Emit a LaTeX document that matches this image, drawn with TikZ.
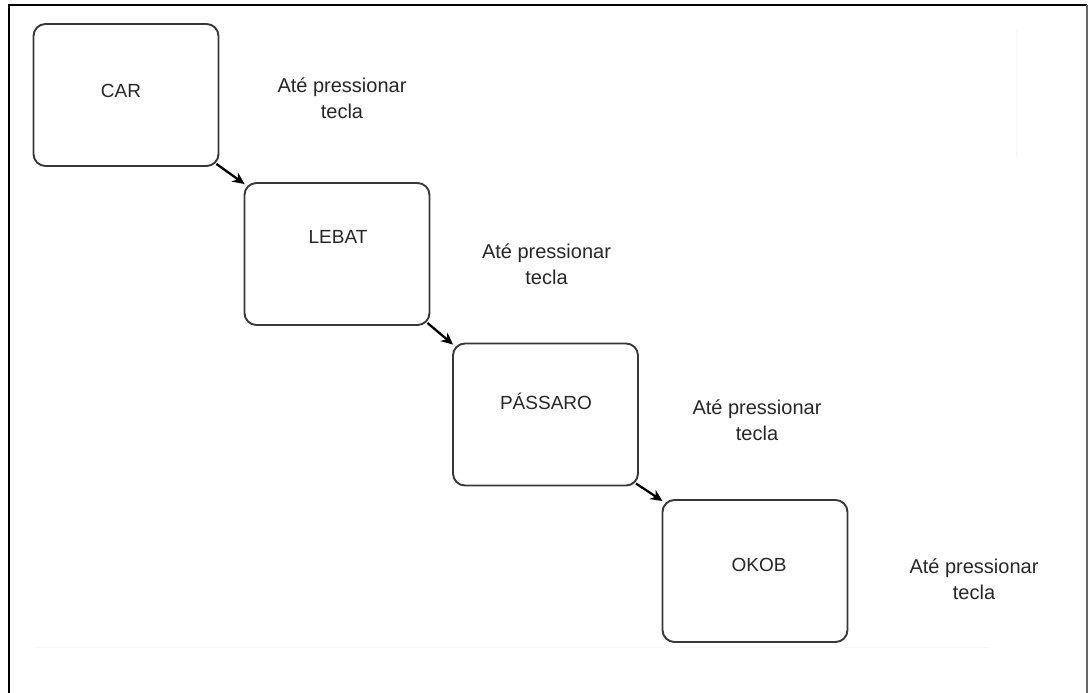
\documentclass[tikz,border=0pt]{standalone}
\usepackage{fontspec}
\setmainfont{Liberation Sans}
\usetikzlibrary{arrows.meta}
\begin{document}
\begin{tikzpicture}[x=1pt,y=-1pt,
  stepbox/.style={draw=black!78, line width=1.9pt, rounded corners=12pt,
    minimum width=185pt, minimum height=142pt, inner sep=0pt},
  boxtext/.style={font=\fontsize{19}{22}\selectfont, text=black!85, inner sep=0pt},
  sidetext/.style={font=\fontsize{20}{26}\selectfont, text=black!85, align=center, inner sep=0pt},
  flow/.style={line width=2.3pt, -{Stealth[length=12pt,width=11pt]}},
  faint/.style={draw=black!3, line width=1pt}]
\useasboundingbox (0,0) rectangle (1088,693);
% outer frame
\coordinate (fbl) at (8.5,693);
\coordinate (ftl) at (8.5,5.5);
\coordinate (ftr) at (1087,5.5);
\coordinate (fbr) at (1087,693);
\draw[line width=2pt, black] (fbl) -- (ftl) -- (ftr);
\draw[line width=2pt, black!60] (ftr) -- (fbr);
% faint lines
\coordinate (v1) at (1016.5,30);
\coordinate (v2) at (1016.5,158);
\coordinate (h1) at (35,647);
\coordinate (h2) at (990,647);
\draw[faint] (v1) -- (v2);
\draw[faint] (h1) -- (h2);
% boxes
\node[stepbox] (car) at (126,95) {};
\node[stepbox] (lebat) at (337,254) {};
\node[stepbox] (passaro) at (545.5,414.5) {};
\node[stepbox] (okob) at (755,571) {};
% box texts
\node[boxtext] (tcar) at (121,91) {CAR};
\node[boxtext] (tlebat) at (338,237) {LEBAT};
\node[boxtext] (tpassaro) at (546,401) {PÁSSARO};
\node[boxtext] (tokob) at (759,565) {OKOB};
% side texts
\node[sidetext] (s1) at (342,98) {Até pressionar\\tecla};
\node[sidetext] (s2) at (546.5,264) {Até pressionar\\tecla};
\node[sidetext] (s3) at (757,420) {Até pressionar\\tecla};
\node[sidetext] (s4) at (974,579) {Até pressionar\\tecla};
% arrows
\draw[flow] ([shift={(-3pt,3pt)}]car.south east) -- ([shift={(1pt,-2pt)}]lebat.north west);
\draw[flow] ([shift={(-3pt,3pt)}]lebat.south east) -- ([shift={(1pt,-2pt)}]passaro.north west);
\draw[flow] ([shift={(-3pt,3pt)}]passaro.south east) -- ([shift={(1pt,-2pt)}]okob.north west);
\end{tikzpicture}
\end{document}
